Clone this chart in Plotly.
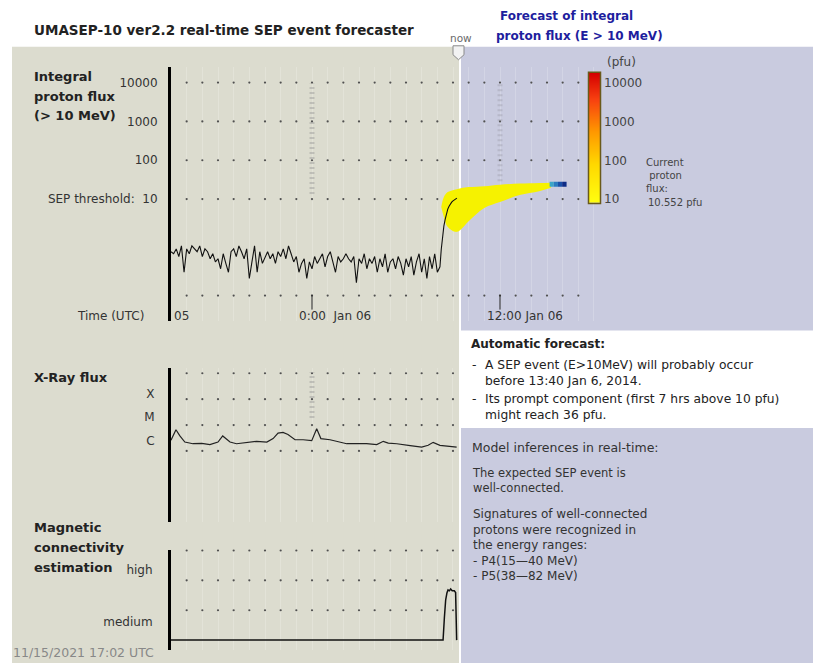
import plotly.graph_objects as go
import pandas as pd

W, H = 813, 666
def fx(p): return p / W
def fy(p): return 1 - p / H

FONT = "DejaVu Sans, Verdana, sans-serif"
TXT = "#333333"

# ---------------- data ----------------
T_START = "2014-01-05 15:00"
T_END_FC = "2014-01-06 18:23"
T_NOW_EDGE = "2014-01-06 09:23"

# >10 MeV integral proton flux (pfu), 10-min samples from 15:00 Jan 05
proton_bg_values = [
    0.44, 0.39, 0.52, 0.33, 0.62, 0.13, 0.52,
    0.39, 0.62, 0.52, 0.44, 0.62, 0.33, 0.52, 0.44, 0.29, 0.39,
    0.24, 0.29, 0.16, 0.39, 0.22, 0.13,
    0.44, 0.52, 0.33, 0.62, 0.44, 0.29, 0.52, 0.09,
    0.24, 0.62, 0.13, 0.44, 0.22,
    0.33, 0.44, 0.29, 0.39, 0.22, 0.44, 0.33, 0.52, 0.29, 0.62, 0.39,
    0.24, 0.33, 0.13, 0.22, 0.29, 0.09, 0.24, 0.16, 0.33,
    0.22, 0.29, 0.39, 0.18, 0.33, 0.44, 0.24, 0.13, 0.33, 0.24, 0.29,
    0.39, 0.29, 0.24, 0.33, 0.07, 0.29, 0.22, 0.39, 0.16, 0.29,
    0.22, 0.33, 0.13, 0.29, 0.18, 0.39, 0.13, 0.24, 0.29, 0.16, 0.33, 0.22, 0.11,
    0.29, 0.18, 0.33, 0.11, 0.24, 0.39, 0.13, 0.29, 0.09, 0.33, 0.16, 0.39, 0.13, 0.18,
]
proton_bg_times = [t.strftime("%Y-%m-%d %H:%M") for t in
                   pd.date_range(T_START, periods=len(proton_bg_values), freq="10min")]
proton_rise_times = ["2014-01-06 08:15", "2014-01-06 08:20", "2014-01-06 08:25", "2014-01-06 08:30",
                     "2014-01-06 08:35", "2014-01-06 08:40", "2014-01-06 08:45", "2014-01-06 08:50",
                     "2014-01-06 08:55", "2014-01-06 09:00", "2014-01-06 09:05", "2014-01-06 09:10",
                     "2014-01-06 09:15"]
proton_rise_values = [0.5, 1.2, 2.0, 3.0, 4.3, 5.5, 6.5, 7.5, 8.3, 9.0, 9.6, 10.1, 10.552]

# forecast envelope (pfu)
fc_times = ["2014-01-06 08:15", "2014-01-06 08:25", "2014-01-06 08:40", "2014-01-06 09:15",
            "2014-01-06 10:00", "2014-01-06 11:00", "2014-01-06 12:00", "2014-01-06 13:15",
            "2014-01-06 14:30", "2014-01-06 15:15"]
fc_upper = [6.2, 11.3, 15.1, 18.0, 20.3, 21.5, 23.5, 25.0, 26.0, 26.5]
fc_lower = [6.2, 3.45, 1.9, 1.43, 2.7, 5.9, 8.4, 12.7, 16.0, 19.5]

# predicted peak bar
peak_times = ["2014-01-06 15:10", "2014-01-06 15:26", "2014-01-06 15:42", "2014-01-06 15:58",
              "2014-01-06 16:15"]
peak_value = 24
peak_colors = ["#3aa6c8", "#2a7cc0", "#1a50a8", "#0e2c86"]

flux_tickvals = [10000, 1000, 100, 10]
flux_ticktext = ["10000", "1000", "100", "SEP threshold:  10"]
flux_grid_rows = [10000, 1000, 100, 10, 0.0326]

# GOES X-ray flux (W/m^2)
xray_times = ["2014-01-05 15:00", "2014-01-05 15:19", "2014-01-05 15:34", "2014-01-05 15:53",
              "2014-01-05 16:24", "2014-01-05 16:58", "2014-01-05 17:29", "2014-01-05 18:00",
              "2014-01-05 18:18", "2014-01-05 18:46", "2014-01-05 19:11", "2014-01-05 19:50",
              "2014-01-05 20:28", "2014-01-05 21:07", "2014-01-05 21:31", "2014-01-05 21:50",
              "2014-01-05 22:09", "2014-01-05 22:28", "2014-01-05 22:55", "2014-01-05 23:26",
              "2014-01-05 23:59", "2014-01-06 00:18", "2014-01-06 00:34", "2014-01-06 01:09",
              "2014-01-06 01:35", "2014-01-06 02:13", "2014-01-06 02:51", "2014-01-06 03:29",
              "2014-01-06 04:08", "2014-01-06 04:33", "2014-01-06 04:52", "2014-01-06 05:25",
              "2014-01-06 06:16", "2014-01-06 07:00", "2014-01-06 07:25", "2014-01-06 07:44",
              "2014-01-06 08:10", "2014-01-06 08:42", "2014-01-06 09:14"]
xray_values = [2.6e-6, 6.6e-6, 3.8e-6, 2.2e-6, 1.9e-6, 1.95e-6, 1.75e-6, 2.2e-6,
               3.8e-6, 2.2e-6, 1.9e-6, 2.15e-6, 2.35e-6, 2.2e-6, 3.0e-6, 4.9e-6,
               5.2e-6, 4.3e-6, 2.7e-6, 2.7e-6, 2.5e-6, 7.2e-6, 3.0e-6, 2.7e-6,
               2.35e-6, 1.9e-6, 1.9e-6, 1.9e-6, 1.75e-6, 2.35e-6, 2.0e-6, 1.9e-6,
               1.6e-6, 1.4e-6, 1.65e-6, 2.15e-6, 1.65e-6, 1.5e-6, 1.4e-6]
xray_class_labels = ["X", "M", "C"]
xray_label_pos = [10 ** -3.8, 10 ** -4.7, 10 ** -5.6]
xray_grid_rows = [1e-3, 1e-4, 1e-5, 1e-6]

# magnetic connectivity estimation (index)
mag_times = ["2014-01-05 15:00", "2014-01-06 08:22", "2014-01-06 08:27", "2014-01-06 08:32",
             "2014-01-06 08:37", "2014-01-06 08:41", "2014-01-06 08:46", "2014-01-06 08:51",
             "2014-01-06 08:57", "2014-01-06 09:05", "2014-01-06 09:10", "2014-01-06 09:14"]
mag_values = [0, 0, 0.25, 0.45, 0.53, 0.56, 0.55, 0.57, 0.55, 0.55, 0.53, 0.0]
mag_labels = ["high", "medium"]
mag_label_pos = [0.79, 0.2]
mag_grid_rows = [1.0, 0.667, 0.333]

time_label_times = ["2014-01-06 00:00", "2014-01-06 12:00"]
time_label_text = ["0:00  Jan 06", "12:00 Jan 06"]
event_times = ["2014-01-06 00:00", "2014-01-06 12:00"]

cbar_levels = [0.9, 4.26]
cbar_tickvals = [1, 2, 3, 4]
cbar_ticktext = ["10", "100", "1000", "10000"]

hours_full = [t.strftime("%Y-%m-%d %H:%M") for t in pd.date_range("2014-01-05 16:00", "2014-01-06 17:00", freq="h")]
hours_now = [t.strftime("%Y-%m-%d %H:%M") for t in pd.date_range("2014-01-05 16:00", "2014-01-06 09:00", freq="h")]

# ---------------- figure ----------------
fig = go.Figure()

def grid_dots(hours, rows, xa, ya):
    xs, ys = [], []
    for r in rows:
        for h in hours:
            xs.append(h); ys.append(r)
    fig.add_trace(go.Scatter(x=xs, y=ys, mode="markers", xaxis=xa, yaxis=ya,
                             marker=dict(size=2.2, color="#505050"), hoverinfo="skip",
                             cliponaxis=False, showlegend=False))

grid_dots(hours_full, flux_grid_rows, "x", "y")

# forecast envelope
fig.add_trace(go.Scatter(x=fc_times, y=fc_lower, mode="lines", line=dict(width=0, shape="spline"),
                         xaxis="x", yaxis="y", showlegend=False, hoverinfo="skip"))
fig.add_trace(go.Scatter(x=fc_times, y=fc_upper, mode="lines", line=dict(width=0, shape="spline"),
                         fill="tonexty", fillcolor="rgb(246,242,0)",
                         xaxis="x", yaxis="y", showlegend=False, hoverinfo="skip"))
for i in range(len(peak_times) - 1):
    fig.add_trace(go.Scatter(x=peak_times[i:i + 2], y=[peak_value, peak_value], mode="lines",
                             line=dict(width=5, color=peak_colors[i]),
                             xaxis="x", yaxis="y", showlegend=False, hoverinfo="skip"))

fig.add_trace(go.Scatter(x=proton_bg_times + proton_rise_times,
                         y=proton_bg_values + proton_rise_values, mode="lines",
                         line=dict(width=1.1, color="#111111"), xaxis="x", yaxis="y",
                         showlegend=False))

grid_dots(hours_now, xray_grid_rows, "x2", "y2")
fig.add_trace(go.Scatter(x=xray_times, y=xray_values, mode="lines",
                         line=dict(width=1.2, color="#222222"), xaxis="x2", yaxis="y2",
                         showlegend=False))

grid_dots(hours_now, mag_grid_rows, "x3", "y3")
fig.add_trace(go.Scatter(x=mag_times, y=mag_values, mode="lines",
                         line=dict(width=1.5, color="#111111"), xaxis="x3", yaxis="y3",
                         showlegend=False))

# colour bar as heatmap
fig.add_trace(go.Heatmap(x=[0, 1], y=cbar_levels, z=[[v, v] for v in cbar_levels],
                         zmin=cbar_levels[0], zmax=cbar_levels[-1], zsmooth="best",
                         colorscale=[[0, "#ffff10"], [0.3, "#ffd800"], [0.55, "#ff9800"],
                                     [0.8, "#f84010"], [1, "#d40000"]],
                         showscale=False, xaxis="x4", yaxis="y4", hoverinfo="skip"))

# ---------------- shapes ----------------
shapes = [
    dict(type="rect", xref="paper", yref="paper", x0=fx(12), x1=fx(459), y0=fy(666), y1=fy(47),
         fillcolor="#dcdccf", line=dict(width=0), layer="below"),
    dict(type="rect", xref="paper", yref="paper", x0=fx(461), x1=fx(813), y0=fy(332), y1=fy(47),
         fillcolor="#c9cbdf", line=dict(width=0), layer="below"),
    dict(type="rect", xref="paper", yref="paper", x0=fx(461), x1=fx(813), y0=fy(666), y1=fy(430),
         fillcolor="#c9cbdf", line=dict(width=0), layer="below"),
    # colour bar frame
    dict(type="rect", xref="paper", yref="paper", x0=fx(588.5), x1=fx(600.5), y0=fy(204.5), y1=fy(72.5),
         line=dict(width=1.5, color="#6a5a1a")),
    # now marker
    dict(type="path", xref="paper", yref="paper",
         path=f"M {fx(453)},{fy(46)} L {fx(464)},{fy(46)} L {fx(464)},{fy(55)} L {fx(458.5)},{fy(60)} L {fx(453)},{fy(55)} Z",
         fillcolor="#f2f2f2", line=dict(width=1, color="#8a8a8a")),
]
# event markers (dashed grey)
ev_line = dict(width=5, color="rgba(150,150,150,0.45)", dash="2px,3px")
shapes.append(dict(type="line", xref="x", yref="paper", x0=event_times[0], x1=event_times[0],
                   y0=fy(195), y1=fy(84), line=ev_line))
shapes.append(dict(type="line", xref="x", yref="paper", x0=event_times[1], x1=event_times[1],
                   y0=fy(182), y1=fy(84), line=dict(ev_line, color="rgba(150,150,160,0.35)")))
shapes.append(dict(type="line", xref="x2", yref="paper", x0=event_times[0], x1=event_times[0],
                   y0=fy(420), y1=fy(374), line=ev_line))
# time tick marks
for t in time_label_times:
    shapes.append(dict(type="line", xref="x", yref="paper", x0=t, x1=t, y0=fy(311), y1=fy(296),
                       line=dict(width=1, color="#222222")))

# ---------------- annotations ----------------
annotations = []
def text(s, x, y, size=12, color=TXT, anchor="left", bold=False):
    annotations.append(dict(text=f"<b>{s}</b>" if bold else s, x=fx(x), y=fy(y), xref="paper",
                            yref="paper", xanchor=anchor, yanchor="middle", showarrow=False,
                            align="left", borderpad=0,
                            font=dict(size=size, color=color, family=FONT)))

text("UMASEP-10 ver2.2 real-time SEP event forecaster", 33, 30, 13.5, "#222222", bold=True)
text("Forecast of integral", 499, 16, 12, "#1e1e9e", bold=True)
text("proton flux (E > 10 MeV)", 495, 36, 12, "#1e1e9e", bold=True)
text("now", 461, 38, 10.5, "#6a6a6a", anchor="center")

text("Integral", 33, 77, 13, "#222222", bold=True)
text("proton flux", 33, 97, 13, "#222222", bold=True)
text("(> 10 MeV)", 33, 116, 13, "#222222", bold=True)
text("Time (UTC)", 145, 317, 12, TXT, anchor="right")
text("05", 173, 317, 12, TXT)
for t, s in zip(time_label_times, time_label_text):
    annotations.append(dict(text=s, x=t, xref="x", y=fy(317), yref="paper", xanchor="left",
                            xshift=-15, yanchor="middle", showarrow=False,
                            font=dict(size=12, color=TXT, family=FONT)))

text("X-Ray flux", 33, 379, 13, "#222222", bold=True)
text("Magnetic", 33, 530, 13, "#222222", bold=True)
text("connectivity", 33, 550, 13, "#222222", bold=True)
text("estimation", 33, 570, 13, "#222222", bold=True)
text("11/15/2021 17:02 UTC", 12, 655, 12.5, "#888888")

text("(pfu)", 606, 62, 12, "#444444")
text("Current<br> proton<br>flux:", 645, 176, 10, "#444444")
text(f"{proton_rise_values[-1]:.3f} pfu", 647, 203, 10, "#444444")

text("Automatic forecast:", 470, 346, 12, "#222222", bold=True)
text("-", 471, 367, 12.3, "#222222")
text("A SEP event (E>10MeV) will probably occur<br>before 13:40 Jan 6, 2014.", 484, 375, 12.3, "#222222")
text("-", 471, 401, 12.3, "#222222")
text("Its prompt component (first 7 hrs above 10 pfu)<br>might reach 36 pfu.", 484, 409, 12.3, "#222222")

text("Model inferences in real-time:", 471, 450, 12.5, "#333333")
text("The expected SEP event is<br>well-connected.", 471, 483, 11.5, "#333333")
text("Signatures of well-connected<br>protons were recognized in<br>the energy ranges:<br>"
     "- P4(15\u201440 MeV)<br>- P5(38\u201482 MeV)", 472, 547, 12, "#333333")

# ---------------- axes ----------------
common_x = dict(type="date", showticklabels=False, zeroline=False, showline=False, ticks="",
                showgrid=True, gridcolor="rgba(255,255,255,0.2)", gridwidth=1,
                tick0="2014-01-05 16:00", dtick=3600000, fixedrange=True)
ytick_font = dict(size=12, color=TXT, family=FONT)

fig.update_layout(
    width=W, height=H, autosize=False,
    margin=dict(l=0, r=0, t=0, b=0),
    paper_bgcolor="white", plot_bgcolor="rgba(0,0,0,0)",
    showlegend=False,
    xaxis=dict(domain=[fx(171), fx(600)], range=[T_START, T_END_FC], anchor="y", **common_x),
    yaxis=dict(domain=[fy(322), fy(67)], type="log", range=[-2.13, 4.41], anchor="x",
               showline=True, linecolor="black", linewidth=3, ticks="", showgrid=False,
               zeroline=False, tickvals=flux_tickvals, ticktext=flux_ticktext,
               tickfont=ytick_font, ticklabelstandoff=8, fixedrange=True),
    xaxis2=dict(domain=[fx(171), fx(459)], range=[T_START, T_NOW_EDGE], anchor="y2", **common_x),
    yaxis2=dict(domain=[fy(524), fy(370)], type="log", range=[-8.73, -2.81], anchor="x2",
                showline=True, linecolor="black", linewidth=3, ticks="", showgrid=False,
                zeroline=False, tickvals=xray_label_pos, ticktext=xray_class_labels,
                tickfont=ytick_font, ticklabelstandoff=11, fixedrange=True),
    xaxis3=dict(domain=[fx(171), fx(459)], range=[T_START, T_NOW_EDGE], anchor="y3", **common_x),
    yaxis3=dict(domain=[fy(653), fy(552)], range=[-0.111, 1.011], anchor="x3",
                showline=True, linecolor="black", linewidth=3, ticks="", showgrid=False,
                zeroline=False, tickvals=mag_label_pos, ticktext=mag_labels,
                tickfont=ytick_font, ticklabelstandoff=13, fixedrange=True),
    xaxis4=dict(domain=[fx(589), fx(600)], range=[-0.5, 1.5], anchor="y4", visible=False,
                fixedrange=True),
    yaxis4=dict(domain=[fy(204), fy(73)], range=[cbar_levels[0], cbar_levels[-1]], anchor="x4",
                side="right", showline=False, ticks="", showgrid=False, zeroline=False,
                tickvals=cbar_tickvals, ticktext=cbar_ticktext,
                tickfont=dict(size=12, color="#444444", family=FONT), ticklabelstandoff=3,
                fixedrange=True),
    shapes=shapes,
    annotations=annotations,
)

fig.write_html("out.html", config={"displayModeBar": False},
               post_script="document.body.style.margin='0px';document.body.style.overflow='hidden';")
